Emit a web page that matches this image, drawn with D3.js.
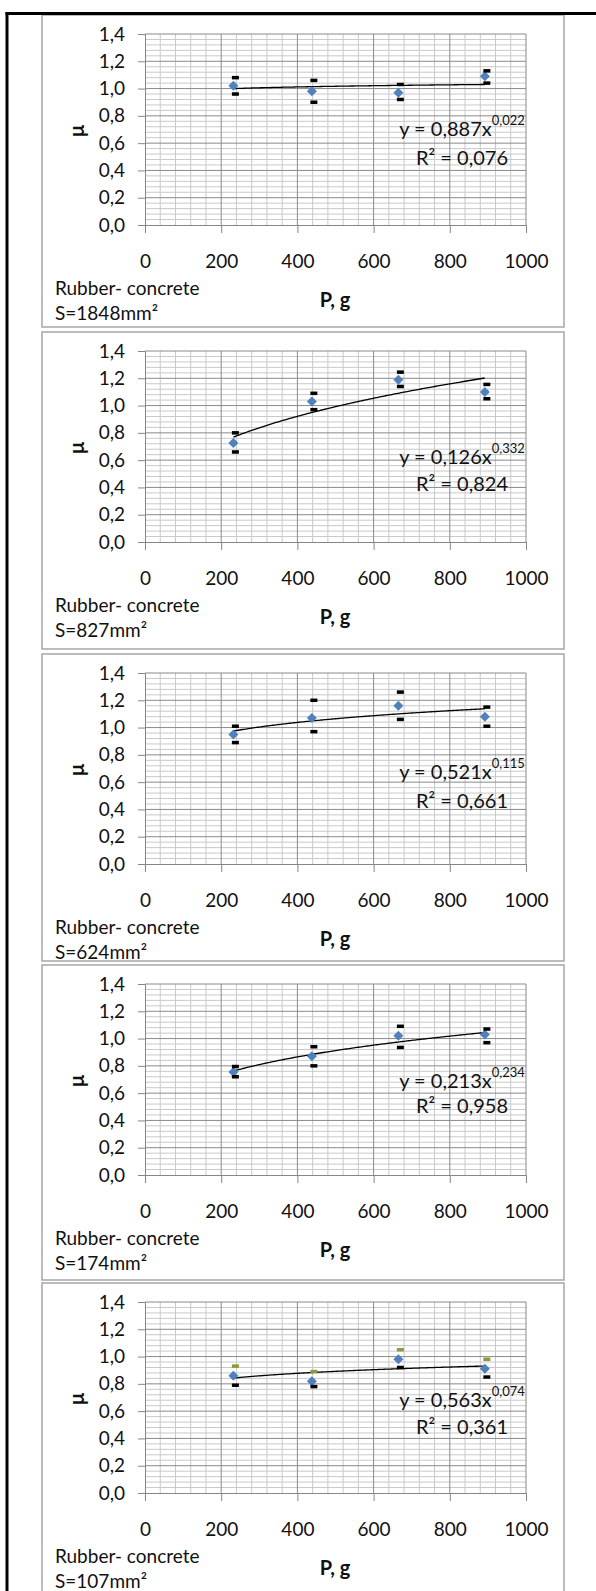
<!DOCTYPE html>
<html>
<head>
<meta charset="utf-8">
<script src="https://cdn.jsdelivr.net/npm/d3@7"></script>
<style>
  html, body { margin: 0; padding: 0; background: #fff; }
  svg text { font-family: Lato, "Open Sans", sans-serif; fill: #111; }
</style>
</head>
<body>
<div id="chart"></div>
<script>
// Friction coefficient μ against normal load P for rubber on concrete,
// one panel per contact area S.
const loadsG = [232, 438, 665, 892];
const areasMm2 = [1848, 827, 624, 174, 107];

const muMean = [
  [1.02, 0.98, 0.97, 1.09],
  [0.725, 1.03, 1.19, 1.10],
  [0.95, 1.07, 1.16, 1.08],
  [0.755, 0.87, 1.02, 1.03],
  [0.86, 0.82, 0.98, 0.91]
];
const muHigh = [
  [1.08, 1.06, 1.03, 1.13],
  [0.80, 1.09, 1.245, 1.155],
  [1.01, 1.20, 1.26, 1.15],
  [0.795, 0.94, 1.09, 1.07],
  [0.93, 0.89, 1.05, 0.98]
];
const muLow = [
  [0.96, 0.90, 0.92, 1.04],
  [0.66, 0.97, 1.14, 1.05],
  [0.89, 0.97, 1.06, 1.01],
  [0.72, 0.80, 0.935, 0.97],
  [0.79, 0.78, 0.92, 0.85]
];

// Power-law trend y = a·x^b and its R²
const fitA = [0.887, 0.126, 0.521, 0.213, 0.563];
const fitB = [0.022, 0.332, 0.115, 0.234, 0.074];
const fitR2 = [0.076, 0.824, 0.661, 0.958, 0.361];

const xTicks = [0, 200, 400, 600, 800, 1000];
const yTicks = [0, 0.2, 0.4, 0.6, 0.8, 1.0, 1.2, 1.4];

// Layout
const W = 596, H = 1591;
const panelTop = [15, 332, 654, 965, 1283];
const panelBottom = [327, 649, 961, 1280, 1600];
const eqAt = [0.71, 0.63, 0.68, 0.70, 0.69];   // equation line height, in μ units
const r2At = [0.50, 0.43, 0.47, 0.51, 0.49];

const fmt1 = v => d3.format(".1f")(v).replace(".", ",");
const fmt3 = v => d3.format(".3f")(v).replace(".", ",");

const svg = d3.select("#chart").append("svg")
  .attr("width", W).attr("height", H)
  .style("display", "block");

svg.append("rect").attr("width", W).attr("height", H).attr("fill", "#fff");

const x = d3.scaleLinear().domain([0, 1000]).range([145, 526]);

areasMm2.forEach((area, i) => {
  const T = panelTop[i];
  const g = svg.append("g").attr("transform", `translate(0,${T})`);
  const y = d3.scaleLinear().domain([0, 1.4]).range([210, 19]);

  g.append("rect")
    .attr("x", 42).attr("y", 0)
    .attr("width", 522).attr("height", panelBottom[i] - T)
    .attr("fill", "#fff").attr("stroke", "#a6a6a6").attr("stroke-width", 1.5);

  // minor grid
  const minorX = d3.range(40, 1000, 40).filter(v => v % 200 !== 0);
  const minorY = d3.range(1, 35).map(k => k * 0.04).filter((v, k) => (k + 1) % 5 !== 0);
  g.append("g").selectAll("line").data(minorX).join("line")
    .attr("x1", d => x(d)).attr("x2", d => x(d))
    .attr("y1", y(0)).attr("y2", y(1.4))
    .attr("stroke", "#c9c9c9").attr("stroke-width", 1);
  g.append("g").selectAll("line").data(minorY).join("line")
    .attr("x1", x(0)).attr("x2", x(1000))
    .attr("y1", d => y(d)).attr("y2", d => y(d))
    .attr("stroke", "#c9c9c9").attr("stroke-width", 1);

  // major grid
  g.append("g").selectAll("line").data(xTicks.slice(1)).join("line")
    .attr("x1", d => x(d)).attr("x2", d => x(d))
    .attr("y1", y(0)).attr("y2", y(1.4))
    .attr("stroke", "#8a8a8a").attr("stroke-width", 1);
  g.append("g").selectAll("line").data(yTicks.slice(1)).join("line")
    .attr("x1", x(0)).attr("x2", x(1000))
    .attr("y1", d => y(d)).attr("y2", d => y(d))
    .attr("stroke", "#8a8a8a").attr("stroke-width", 1);

  // axes
  const yAxis = g.append("g").attr("transform", `translate(${x(0)},0)`)
    .call(d3.axisLeft(y).tickValues(yTicks).tickFormat(fmt1).tickSize(7).tickPadding(13));
  const xAxis = g.append("g").attr("transform", `translate(0,${y(0)})`)
    .call(d3.axisBottom(x).tickValues(xTicks).tickFormat(d => d).tickSize(8).tickPadding(22));
  [yAxis, xAxis].forEach(a => {
    a.select(".domain").attr("stroke", "#868686");
    a.selectAll(".tick line").attr("stroke", "#868686");
    a.selectAll(".tick text").attr("font-size", 19).attr("font-family", "Lato, sans-serif").attr("fill", "#111");
  });

  // trend line
  const xs = d3.range(loadsG[0], loadsG[3] + 0.1, 4);
  g.append("path")
    .datum(xs)
    .attr("fill", "none").attr("stroke", "#000").attr("stroke-width", 1.3)
    .attr("d", d3.line().x(d => x(d)).y(d => y(fitA[i] * Math.pow(d, fitB[i]))));

  // markers
  const diamond = d3.symbol().type(d3.symbolSquare).size(50);
  g.append("g").selectAll("path").data(loadsG).join("path")
    .attr("d", diamond)
    .attr("transform", (d, k) => `translate(${x(d)},${y(muMean[i][k])}) rotate(45)`)
    .attr("fill", "#4f81bd");

  // error bar caps
  const capW = 7, capH = 3.5;
  const upColor = i === 4 ? "#8c9a3c" : "#000";
  g.append("g").selectAll("rect").data(loadsG).join("rect")
    .attr("x", d => x(d) + 2 - capW / 2)
    .attr("y", (d, k) => y(muHigh[i][k]) - capH / 2)
    .attr("width", capW).attr("height", capH)
    .attr("fill", upColor);
  g.append("g").selectAll("rect").data(loadsG).join("rect")
    .attr("x", d => x(d) + 2 - capW / 2)
    .attr("y", (d, k) => y(muLow[i][k]) - capH / 2)
    .attr("width", capW).attr("height", capH)
    .attr("fill", "#000");

  // equation
  const eq = g.append("text")
    .attr("x", 462).attr("y", y(eqAt[i]))
    .attr("text-anchor", "middle").attr("dominant-baseline", "central")
    .attr("font-size", 20);
  eq.append("tspan").text(`y = ${fmt3(fitA[i])}x`);
  eq.append("tspan").attr("font-size", 13).attr("dy", -8).text(fmt3(fitB[i]));

  g.append("text")
    .attr("x", 462).attr("y", y(r2At[i]))
    .attr("text-anchor", "middle").attr("dominant-baseline", "central")
    .attr("font-size", 20)
    .text(`R² = ${fmt3(fitR2[i])}`);

  // axis titles
  g.append("text")
    .attr("transform", `translate(76,${116}) rotate(-90)`)
    .attr("text-anchor", "middle").attr("dominant-baseline", "central")
    .attr("font-size", 20).attr("font-weight", "bold")
    .text("μ");
  g.append("text")
    .attr("x", 335).attr("y", 284)
    .attr("text-anchor", "middle").attr("dominant-baseline", "central")
    .attr("font-size", 20).attr("font-weight", "bold")
    .text("P, g");

  g.append("text")
    .attr("x", 55).attr("y", 272)
    .attr("dominant-baseline", "central").attr("font-size", 19)
    .text("Rubber- concrete");
  g.append("text")
    .attr("x", 55).attr("y", 297)
    .attr("dominant-baseline", "central").attr("font-size", 19)
    .text(`S=${area}mm²`);
});

// outer frame: left and top rules
svg.append("rect").attr("x", 5.5).attr("y", 12).attr("width", 3).attr("height", H - 12).attr("fill", "#000");
svg.append("rect").attr("x", 5.5).attr("y", 12).attr("width", W - 5.5).attr("height", 3).attr("fill", "#000");
</script>
</body>
</html>
